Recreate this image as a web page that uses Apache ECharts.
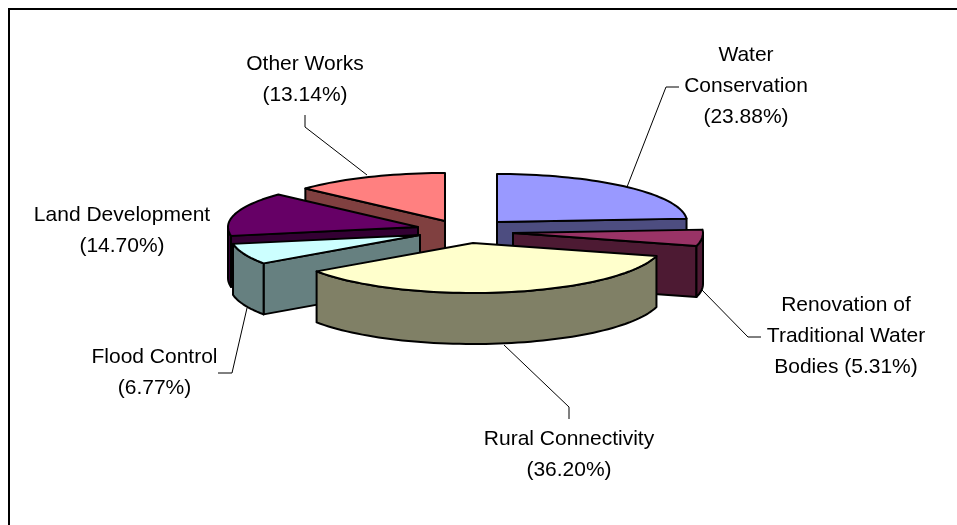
<!DOCTYPE html>
<html>
<head>
<meta charset="utf-8">
<style>html,body{margin:0;padding:0;background:#fff;overflow:hidden}#chart{width:957px;height:525px}</style>
<script src="https://cdn.jsdelivr.net/npm/echarts@6/dist/echarts.min.js"></script>
</head>
<body>
<div id="chart"></div>
<script>
// ---- data ----
const categories = ['Water\nConservation', 'Renovation of\nTraditional Water\nBodies', 'Rural Connectivity', 'Flood Control', 'Land Development', 'Other Works'];
const shares = [23.88, 5.31, 36.20, 6.77, 14.70, 13.14];

// ---- styling ----
const topColors = ['#9999FF', '#993366', '#FFFFCC', '#CCFFFF', '#660066', '#FF8080'];
const sideColors = ['#4D4D80', '#4D1A33', '#808066', '#668080', '#330033', '#804040'];

// ---- layout ----
const pie = { cx: 463, cy: 230, rx: 190, ryFront: 50, ryBack: 48, depth: 51 };
const explode = [[34, -8], [50, 3], [10, 13], [-43, 5], [-45, -3], [-18, -9]];
const paintOrder = [5, 0, 4, 1, 3, 2];
const labelSeparators = ['\n', ' ', '\n', '\n', '\n', '\n'];
const labelAnchors = [[746, 86], [846, 336.5], [569, 454.5], [154.5, 373], [122, 230.5], [305, 79.5]];
const leaders = [
  [[627, 187], [666, 87], [679, 87]],
  [[702, 290], [748, 337], [761, 337]],
  [[504, 345], [569, 407], [569, 419]],
  [[247, 308], [232, 373], [218, 373]],
  null,
  [[367, 175], [305, 127], [305, 115]]
];

const starts = [];
shares.reduce((sum, v, i) => { starts[i] = sum; return sum + v; }, 0);
const total = shares.reduce((a, b) => a + b, 0);
const toDeg = v => v / total * 360;

function rimPoint(ax, ay, deg) {
  const t = deg * Math.PI / 180, c = Math.cos(t);
  return [ax + pie.rx * Math.sin(t), ay - (c > 0 ? pie.ryBack : pie.ryFront) * c];
}
function arc(ax, ay, from, to) {
  const pts = [], n = Math.max(2, Math.ceil((to - from) / 2));
  for (let i = 0; i <= n; i++) pts.push(rimPoint(ax, ay, from + (to - from) * i / n));
  return pts;
}
const down = p => [p[0], p[1] + pie.depth];

function renderSlice(params, api) {
  const i = api.value(0), a0 = toDeg(api.value(1)), a1 = a0 + toDeg(api.value(2));
  const ax = pie.cx + explode[i][0], ay = pie.cy + explode[i][1];
  const apex = [ax, ay];
  const side = { fill: sideColors[i], stroke: '#000', lineWidth: 2, lineJoin: 'round' };
  const kids = [];
  const face = p => {
    kids.push({ type: 'polygon', shape: { points: [apex, p, down(p), down(apex)] }, style: side, silent: true });
  };
  if (Math.sin(a0 * Math.PI / 180) < -1e-6) face(rimPoint(ax, ay, a0));
  if (Math.sin(a1 * Math.PI / 180) > 1e-6) face(rimPoint(ax, ay, a1));
  const w0 = Math.max(a0, 90), w1 = Math.min(a1, 270);
  if (w1 > w0) {
    const top = arc(ax, ay, w0, w1);
    kids.push({ type: 'polygon', shape: { points: top.concat(top.map(down).reverse()) }, style: side, silent: true });
  }
  kids.push({
    type: 'polygon',
    shape: { points: [apex].concat(arc(ax, ay, a0, a1)) },
    style: { fill: topColors[i], stroke: '#000', lineWidth: 2, lineJoin: 'round' },
    silent: true
  });
  return { type: 'group', children: kids };
}

function renderLabel(params, api) {
  const i = api.value(0), kids = [];
  if (leaders[i]) kids.push({
    type: 'polyline', shape: { points: leaders[i] },
    style: { fill: null, stroke: '#000', lineWidth: 1 }, silent: true
  });
  kids.push({
    type: 'text', x: labelAnchors[i][0], y: labelAnchors[i][1], silent: true,
    style: {
      text: categories[i] + labelSeparators[i] + '(' + shares[i].toFixed(2) + '%)',
      fontFamily: '"Liberation Sans", Arial, sans-serif', fontSize: 21, lineHeight: 31,
      fill: '#000', align: 'center', verticalAlign: 'middle'
    }
  });
  return { type: 'group', children: kids };
}

const chart = echarts.init(document.getElementById('chart'), null, { width: 957, height: 525 });
chart.setOption({
  animation: false,
  backgroundColor: '#fff',
  graphic: [{
    type: 'rect', silent: true, z: -1,
    shape: { x: 9, y: 9, width: 980, height: 560 },
    style: { fill: 'transparent', stroke: '#000', lineWidth: 2 }
  }],
  series: [
    {
      type: 'custom', coordinateSystem: 'none', silent: true, animation: false,
      renderItem: renderSlice,
      data: paintOrder.map(i => [i, starts[i], shares[i]])
    },
    {
      type: 'custom', coordinateSystem: 'none', silent: true, animation: false,
      renderItem: renderLabel,
      data: shares.map((v, i) => [i, v])
    }
  ]
});
</script>
</body>
</html>
